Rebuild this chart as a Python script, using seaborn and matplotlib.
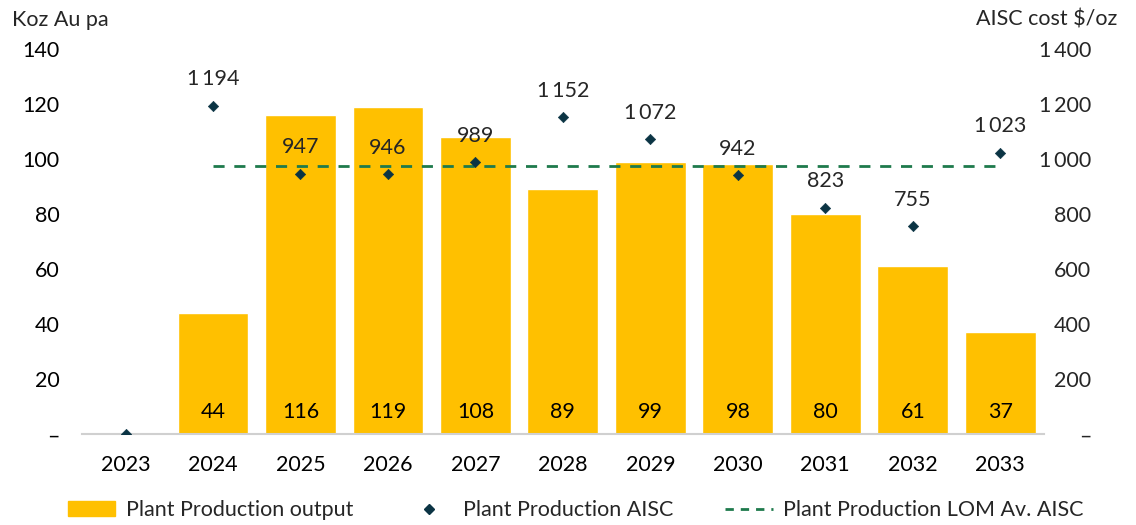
import numpy as np
import pandas as pd
import matplotlib
matplotlib.use("Agg")
import matplotlib.pyplot as plt
import seaborn as sns
from matplotlib.lines import Line2D
from matplotlib.patches import Patch

years = ["2023", "2024", "2025", "2026", "2027", "2028", "2029", "2030", "2031", "2032", "2033"]
output_koz = [0, 44, 116, 119, 108, 89, 99, 98, 80, 61, 37]
aisc = [0, 1194, 947, 946, 989, 1152, 1072, 942, 823, 755, 1023]
lom_avg_aisc = 975
left_ticks = [0, 20, 40, 60, 80, 100, 120, 140]
right_ticks = [0, 200, 400, 600, 800, 1000, 1200, 1400]

sns.set_style("white")
plt.rcParams["font.family"] = ["Lato", "DejaVu Sans"]

BAR = "#FFC000"
DOT = "#0B3444"
LINE = "#1E7A4C"
FS = 15.5

df = pd.DataFrame({"year": years, "koz": output_koz, "aisc": aisc})
x = np.arange(len(years))

fig = plt.figure(figsize=(11.36, 5.25), dpi=100)
ax = fig.add_axes([0.072, 0.173, 0.847, 0.734])
sns.barplot(data=df, x="year", y="koz", color=BAR, width=0.81, ax=ax, saturation=1)
ax.set_xlim(-0.5, len(years) - 0.5)
ax.set_ylim(0, 140)
ax.set_yticks(left_ticks)
ax.set_yticklabels(["–" if v == 0 else str(v) for v in left_ticks])
ax.set_xlabel("")
ax.set_ylabel("")
for s in ["top", "right", "left"]:
    ax.spines[s].set_visible(False)
ax.spines["bottom"].set_color("#d0d0d0")
ax.spines["bottom"].set_linewidth(1.5)
ax.tick_params(axis="both", length=0, labelsize=FS, colors="black")
ax.tick_params(axis="x", pad=15)
ax.tick_params(axis="y", pad=16)

for i, v in enumerate(output_koz):
    if v > 0:
        ax.text(i, 8, str(v), ha="center", va="center", fontsize=FS, color="black")

ax2 = ax.twinx()
ax2.set_ylim(0, 1400)
ax2.set_yticks(right_ticks)
ax2.set_yticklabels([("–" if v == 0 else f"{v:,}".replace(",", "\u2009")) for v in right_ticks])
for s in ax2.spines.values():
    s.set_visible(False)
ax2.tick_params(axis="y", length=0, labelsize=FS, pad=34)
for lab in ax2.get_yticklabels():
    lab.set_horizontalalignment("right")

sns.scatterplot(x=x, y=aisc, marker="D", s=28, color=DOT, edgecolor=DOT, ax=ax2, zorder=5)
ax2.plot(x[1:], [lom_avg_aisc] * (len(years) - 1), ls=(0, (4, 3.5)), color=LINE, lw=2)

for i, v in enumerate(aisc):
    if v > 0:
        ax2.text(i, v + 95, f"{v:,}".replace(",", "\u2009"), ha="center", va="center", fontsize=FS)

fig.text(0.011, 0.962, "Koz Au pa", fontsize=FS, ha="left", va="center")
fig.text(0.984, 0.962, "AISC cost $/oz", fontsize=FS, ha="right", va="center")

handles = [
    Patch(facecolor=BAR, edgecolor=BAR),
    Line2D([], [], marker="D", ls="", color=DOT, markersize=5),
    Line2D([], [], ls=(0, (3, 2.5)), color=LINE, lw=2),
]
labels = ["Plant Production output", "Plant Production AISC", "Plant Production LOM Av. AISC"]
fig.legend(handles, labels, loc="center", bbox_to_anchor=(0.507, 0.028), ncol=3, frameon=False,
           fontsize=FS, columnspacing=2.4, handlelength=2.2, handletextpad=0.5)

fig.savefig("out.png", dpi=100)
